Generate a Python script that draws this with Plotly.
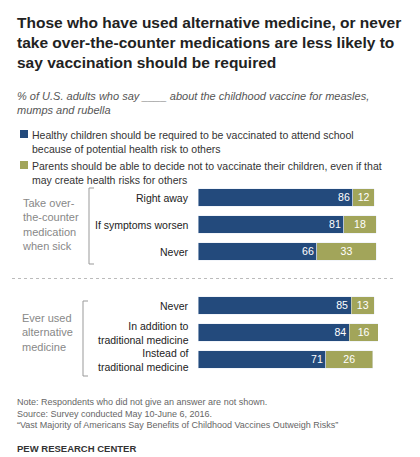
import plotly.graph_objects as go

labels = ["Right away", "If symptoms worsen", "Never", "Never", "In addition to<br>traditional medicine", "Instead of<br>traditional medicine"]
ypos = [0, 1, 2, 4, 5, 6]
required = [86, 81, 66, 85, 84, 71]
parents = [12, 18, 33, 13, 16, 26]
BLUE = "#234a7c"; GREEN = "#a2a55a"

fig = go.Figure()
fig.add_bar(y=ypos, x=required, orientation="h", marker_color=BLUE, width=0.65,
            text=required, textposition="inside", insidetextanchor="end",
            textfont=dict(color="white", size=11))
fig.add_bar(y=ypos, x=parents, orientation="h", marker_color=GREEN, width=0.65,
            text=parents, textposition="inside", insidetextanchor="middle",
            textfont=dict(color="white", size=11))
fig.update_layout(barmode="stack", width=420, height=457, showlegend=False,
    margin=dict(l=190, r=50, t=176, b=92), plot_bgcolor="white", paper_bgcolor="white",
    font=dict(family="Arial, Liberation Sans", color="#333"),
    xaxis=dict(range=[0, 100], visible=False),
    yaxis=dict(range=[6.5, -0.5], visible=False), uniformtext=dict(minsize=8))

ann = []
def A(x, y, t, **k):
    d = dict(xref="paper", yref="paper", x=x, y=y, text=t, showarrow=False, xanchor="left", yanchor="top", align="left")
    d.update(k); ann.append(d)
def px(xp): return (xp - 190) / 180
def py(yp): return (457 - 92 - yp) / (457 - 176 - 92)

A(px(7), py(4), "<b>Those who have used alternative medicine, or never<br>take over-the-counter medications are less likely to<br>say vaccination should be required</b>", font=dict(size=15.5, color="#222"))
A(px(7), py(80), "<i>% of U.S. adults who say ____ about the childhood vaccine for measles,<br>mumps and rubella</i>", font=dict(size=11, color="#555"))
A(px(22), py(119), "Healthy children should be required to be vaccinated to attend school<br>because of potential health risk to others", font=dict(size=10.5, color="#333"))
A(px(22), py(150), "Parents should be able to decide not to vaccinate their children, even if that<br>may create health risks for others", font=dict(size=10.5, color="#333"))
for l, y in zip(labels, ypos):
    ann.append(dict(xref="paper", yref="y", x=px(183), y=y, text=l, showarrow=False, xanchor="right", align="right", font=dict(size=10.5, color="#222")))
ann.append(dict(xref="paper", yref="y", x=px(12), y=1, text="Take over-<br>the-counter<br>medication<br>when sick", showarrow=False, xanchor="left", align="left", font=dict(size=11, color="#888")))
ann.append(dict(xref="paper", yref="y", x=px(12), y=5, text="Ever used<br>alternative<br>medicine", showarrow=False, xanchor="left", align="left", font=dict(size=11, color="#888")))
A(px(7), py(387), "Note: Respondents who did not give an answer are not shown.<br>Source: Survey conducted May 10-June 6, 2016.<br>“Vast Majority of Americans Say Benefits of Childhood Vaccines Outweigh Risks”", font=dict(size=9, color="#666"))
A(px(7), py(433), "<b>PEW RESEARCH CENTER</b>", font=dict(size=9.5, color="#333"))
fig.update_layout(annotations=ann)

def bracket(x, y0, y1):
    return dict(type="path", xref="paper", yref="y",
                path=f"M {px(x+5)} {y0} L {px(x)} {y0} L {px(x)} {y1} L {px(x+5)} {y1}",
                line=dict(color="#999", width=1))
shapes = [
    dict(type="rect", xref="paper", yref="paper", x0=px(12), x1=px(20), y0=py(122), y1=py(130), fillcolor=BLUE, line_width=0),
    dict(type="rect", xref="paper", yref="paper", x0=px(12), x1=px(20), y0=py(153), y1=py(161), fillcolor=GREEN, line_width=0),
    dict(type="line", xref="paper", yref="y", x0=px(4), x1=px(388), y0=3, y1=3, line=dict(color="#bbb", width=1, dash="dot")),
]
fig.update_layout(shapes=shapes)
# brackets via paper-y path (path uses axis refs)
fig.add_shape(type="path", xref="paper", yref="paper",
              path=f"M {px(86)} {py(180)} L {px(81)} {py(180)} L {px(81)} {py(256)} L {px(86)} {py(256)}",
              line=dict(color="#999", width=1))
fig.add_shape(type="path", xref="paper", yref="paper",
              path=f"M {px(80)} {py(293)} L {px(75)} {py(293)} L {px(75)} {py(368)} L {px(80)} {py(368)}",
              line=dict(color="#999", width=1))
fig.write_html("out.html")
